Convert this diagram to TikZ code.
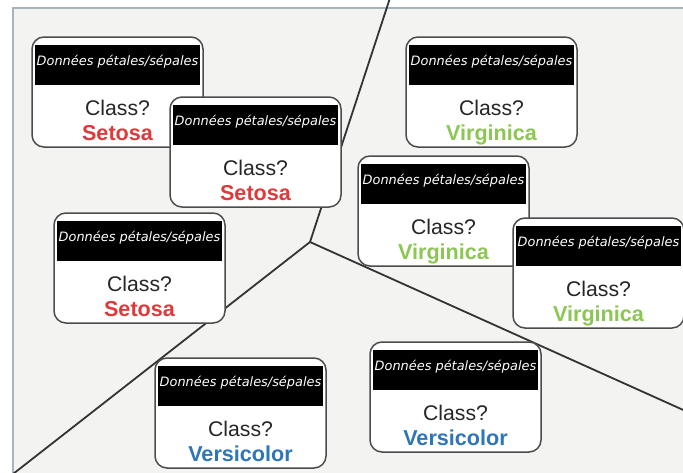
\documentclass[tikz,border=0pt]{standalone}
\usepackage{fontspec}
\setmainfont{Liberation Sans}
\newfontfamily\hdfont{DejaVu Sans}
\usetikzlibrary{positioning}

\definecolor{fond}{HTML}{F3F3F2}
\definecolor{cadre}{HTML}{A9B3BD}
\definecolor{rouge}{HTML}{DD3B3B}
\definecolor{vert}{HTML}{8CC653}
\definecolor{bleu}{HTML}{2F76B8}

\tikzset{
  card/.style={draw=black!70, fill=white, line width=1.5pt, rounded corners=12pt,
    minimum width=171pt, minimum height=110pt, inner sep=0pt},
  head/.style={fill=black, text=white, minimum width=165pt, minimum height=40pt,
    inner sep=0pt, text height=8.5pt, text depth=7.5pt,
    font=\hdfont\itshape\fontsize{12.9}{15}\selectfont},
  ask/.style={anchor=base, inner sep=0pt, font=\fontsize{21.2}{25}\selectfont, text=black!85},
  cls/.style={anchor=base, inner sep=0pt, font=\bfseries\fontsize{21.6}{26}\selectfont},
  border/.style={draw=black!80, line width=1.8pt}
}

% #1 name, #2 #3 top left corner, #4 class, #5 colour
\newcommand{\carte}[5]{%
  \node[card] (#1) at (#2+85.5,#3+55) {};
  \node[head] (#1h) at (#2+85.5,#3+28) {Données pétales/sépales};
  \node[ask] (#1q) at (#2+85.5,#3+78) {Class?};
  \node[cls,text=#5] (#1c) at (#2+85.5,#3+103) {#4};
}

\begin{document}
\begin{tikzpicture}[x=1pt, y=-1pt]
  \useasboundingbox (0,0) rectangle (683,472);
  \draw[fill=fond, draw=cadre, line width=1.8pt] (13,8) rectangle (700,490);

  % frontieres
  \coordinate (j) at (310,242);
  \coordinate (top) at (390,-2);
  \coordinate (bl) at (13,474);
  \coordinate (br) at (690,413);
  \draw[border] (top) -- (j) -- (bl);
  \draw[border] (j) -- (br);

  % setosa
  \carte{s1}{32}{37}{Setosa}{rouge}
  \carte{s2}{170}{97}{Setosa}{rouge}
  \carte{s3}{54}{213}{Setosa}{rouge}
  % virginica
  \carte{v1}{406}{37}{Virginica}{vert}
  \carte{v2}{358}{156}{Virginica}{vert}
  \carte{v3}{513}{218}{Virginica}{vert}
  % versicolor
  \carte{c1}{370}{342}{Versicolor}{bleu}
  \carte{c2}{155}{358}{Versicolor}{bleu}
\end{tikzpicture}
\end{document}
